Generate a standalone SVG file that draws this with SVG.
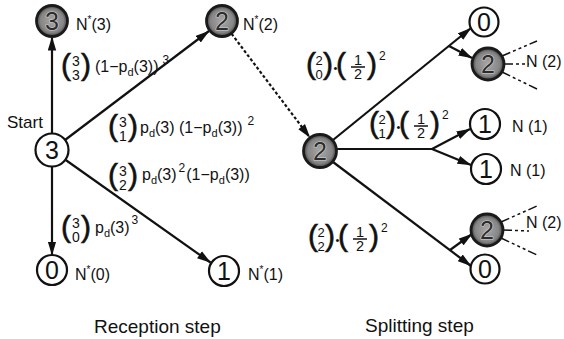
<svg xmlns="http://www.w3.org/2000/svg" width="564" height="339" viewBox="0 0 564 339">
  <defs>
    <style>
      text { font-family: "Liberation Sans", Arial, Helvetica, sans-serif; fill: #111; }
      .ln { stroke: #111; stroke-width: 2.2; fill: none; }
      .arr { marker-end: url(#ah); }
      .dot { stroke: #111; stroke-width: 2.2; fill: none; stroke-dasharray: 3 2.2; }
      .dash { stroke: #111; stroke-width: 1.5; fill: none; stroke-dasharray: 9 3 3 3 3 3 3 3; }
      .plain circle { fill: #fff; stroke: #111; stroke-width: 2.2; }
      .shade circle { fill: url(#grey); stroke: #1a1a1a; stroke-width: 2.8; }
      .num { font-size: 25px; text-anchor: middle; }
      .shade .num { fill: #2c2c2c; stroke: #d4d4d4; stroke-width: 1.2; paint-order: stroke; }
      .lbl { font-size: 16px; }
      .star { font-size: 10px; }
      .big { font-size: 30px; stroke: #111; stroke-width: 0.6; }
      .bn { font-size: 14px; text-anchor: middle; }
      .bs { font-size: 13px; text-anchor: middle; }
      .fr { font-size: 14.5px; text-anchor: middle; }
      .f { font-size: 16px; }
      .sb { font-size: 11px; }
      .sp { font-size: 12px; }
      .bar { stroke: #111; stroke-width: 1.5; }
      .cap { font-size: 19px; }
    </style>
    <radialGradient id="grey" cx="0.5" cy="0.5" r="0.5">
      <stop offset="0" stop-color="#a8a8a8"/>
      <stop offset="0.75" stop-color="#858585"/>
      <stop offset="1" stop-color="#404040"/>
    </radialGradient>
    <marker id="ah" viewBox="0 0 14 9" refX="13.5" refY="4.5" markerWidth="14" markerHeight="9" markerUnits="userSpaceOnUse" orient="auto">
      <path d="M0,0.3 L14,4.5 L0,8.7 Z" fill="#111"/>
    </marker>
  </defs>

  <rect width="564" height="339" fill="#fff"/>

  <!-- connectors -->
  <g id="connectors">
    <!-- reception step -->
    <line class="ln arr" x1="52" y1="133.5" x2="52" y2="37"/>
    <line class="ln arr" x1="65" y1="140" x2="209" y2="31"/>
    <line class="ln arr" x1="65" y1="159.5" x2="210.5" y2="262.5"/>
    <line class="ln arr" x1="52" y1="166.5" x2="52" y2="255"/>
    <line class="dot arr" x1="231.6" y1="33.8" x2="309.8" y2="137.4"/>
    <!-- splitting step -->
    <line class="ln arr" x1="333" y1="140" x2="471" y2="28"/>
    <line class="ln arr" x1="449" y1="46" x2="472" y2="58"/>
    <polyline class="ln" points="337,149 432,149"/>
    <line class="ln arr" x1="432" y1="149" x2="470" y2="129"/>
    <line class="ln arr" x1="432" y1="149" x2="471" y2="165"/>
    <line class="ln arr" x1="333" y1="162" x2="471" y2="266"/>
    <line class="ln arr" x1="450" y1="250" x2="472" y2="234"/>
    <!-- further splits -->
    <line class="dash" x1="502" y1="56" x2="537" y2="41"/>
    <line class="dash" x1="504" y1="64" x2="529" y2="64"/>
    <line class="dash" x1="502" y1="72" x2="537" y2="89"/>
    <line class="dash" x1="501" y1="222" x2="537" y2="206"/>
    <line class="dash" x1="503" y1="230" x2="529" y2="231"/>
    <line class="dash" x1="501" y1="238" x2="537" y2="255"/>
  </g>

  <!-- nodes -->
  <g id="n-top3" class="shade">
    <circle cx="52" cy="21" r="15.5"/>
    <text class="num" x="52" y="30">3</text>
    <text class="lbl" x="76" y="30">N<tspan class="star" dy="-7">*</tspan><tspan dy="7">(3)</tspan></text>
  </g>
  <g id="n-start" class="plain">
    <circle cx="52" cy="150" r="16.5"/>
    <text class="num" x="52" y="159">3</text>
    <text x="7" y="128" font-size="17">Start</text>
  </g>
  <g id="n-top2" class="shade">
    <circle cx="222" cy="21" r="15.5"/>
    <text class="num" x="222" y="30">2</text>
    <text class="lbl" x="243" y="30">N<tspan class="star" dy="-7">*</tspan><tspan dy="7">(2)</tspan></text>
  </g>
  <g id="n-bot0" class="plain">
    <circle cx="52" cy="270" r="15"/>
    <text class="num" x="52" y="279">0</text>
    <text class="lbl" x="75" y="280">N<tspan class="star" dy="-7">*</tspan><tspan dy="7">(0)</tspan></text>
  </g>
  <g id="n-bot1" class="plain">
    <circle cx="224" cy="271" r="15"/>
    <text class="num" x="224" y="280">1</text>
    <text class="lbl" x="248" y="280">N<tspan class="star" dy="-7">*</tspan><tspan dy="7">(1)</tspan></text>
  </g>
  <g id="n-split2" class="shade">
    <circle cx="320" cy="151" r="16.5"/>
    <text class="num" x="320" y="160">2</text>
  </g>
  <g id="n-a0" class="plain">
    <circle cx="484" cy="22" r="14.5"/>
    <text class="num" x="484" y="31">0</text>
  </g>
  <g id="n-a2" class="shade">
    <circle cx="488" cy="64" r="16"/>
    <text class="num" x="488" y="73">2</text>
    <text class="lbl" x="526" y="67">N (2)</text>
  </g>
  <g id="n-b1" class="plain">
    <circle cx="485" cy="124" r="15"/>
    <text class="num" x="485" y="133">1</text>
    <text class="lbl" x="512" y="132">N (1)</text>
  </g>
  <g id="n-c1" class="plain">
    <circle cx="486" cy="169" r="15"/>
    <text class="num" x="486" y="178">1</text>
    <text class="lbl" x="510" y="176">N (1)</text>
  </g>
  <g id="n-d2" class="shade">
    <circle cx="487" cy="230" r="16"/>
    <text class="num" x="487" y="239">2</text>
    <text class="lbl" x="526" y="228">N (2)</text>
  </g>
  <g id="n-d0" class="plain">
    <circle cx="485" cy="269" r="14.5"/>
    <text class="num" x="485" y="278">0</text>
  </g>

  <!-- branch probabilities, reception step -->
  <g id="p-33" transform="translate(61,53)">
    <text class="big" x="0" y="22">(</text>
    <text class="bn" x="15" y="13">3</text>
    <text class="bn" x="15" y="27">3</text>
    <text class="big" x="20" y="22">)</text>
    <text class="f" x="34" y="19">(1−p<tspan class="sb" dy="4">d</tspan><tspan dy="-4">(3))</tspan><tspan class="sp" dx="4" dy="-8">3</tspan></text>
  </g>
  <g id="p-31" transform="translate(108,114)">
    <text class="big" x="0" y="22">(</text>
    <text class="bn" x="15" y="13">3</text>
    <text class="bn" x="15" y="27">1</text>
    <text class="big" x="20" y="22">)</text>
    <text class="f" x="32" y="19">p<tspan class="sb" dy="4">d</tspan><tspan dy="-4">(3) (1−p</tspan><tspan class="sb" dy="4">d</tspan><tspan dy="-4">(3))</tspan><tspan class="sp" dx="5" dy="-8">2</tspan></text>
  </g>
  <g id="p-32" transform="translate(108,163)">
    <text class="big" x="0" y="22">(</text>
    <text class="bn" x="15" y="13">3</text>
    <text class="bn" x="15" y="27">2</text>
    <text class="big" x="20" y="22">)</text>
    <text class="f" x="34" y="17">p<tspan class="sb" dy="4">d</tspan><tspan dy="-4">(3)</tspan><tspan class="sp" dx="2" dy="-8">2</tspan><tspan dx="1" dy="8">(1−p</tspan><tspan class="sb" dy="4">d</tspan><tspan dy="-4">(3))</tspan></text>
  </g>
  <g id="p-30" transform="translate(61,215)">
    <text class="big" x="0" y="22">(</text>
    <text class="bn" x="15" y="13">3</text>
    <text class="bn" x="15" y="27">0</text>
    <text class="big" x="20" y="22">)</text>
    <text class="f" x="34" y="18">p<tspan class="sb" dy="4">d</tspan><tspan dy="-4">(3)</tspan><tspan class="sp" dx="2" dy="-9">3</tspan></text>
  </g>

  <!-- branch probabilities, splitting step -->
  <g id="p-20" transform="translate(306,52)">
    <text class="big" x="0" y="22">(</text>
    <text class="bs" x="13" y="12.5">2</text>
    <text class="bs" x="13" y="26.5">0</text>
    <text class="big" x="17" y="22">)</text>
    <text x="29.5" y="19.5" font-size="11" text-anchor="middle">•</text>
    <text class="big" x="30" y="22">(</text>
    <text class="fr" x="52" y="12.5">1</text>
    <line class="bar" x1="45" y1="15" x2="59" y2="15"/>
    <text class="fr" x="52" y="27">2</text>
    <text class="big" x="61" y="22">)</text>
    <text class="sp" x="73" y="8">2</text>
  </g>
  <g id="p-21" transform="translate(369,111)">
    <text class="big" x="0" y="22">(</text>
    <text class="bs" x="13" y="12.5">2</text>
    <text class="bs" x="13" y="26.5">1</text>
    <text class="big" x="17" y="22">)</text>
    <text x="29.5" y="19.5" font-size="11" text-anchor="middle">•</text>
    <text class="big" x="30" y="22">(</text>
    <text class="fr" x="52" y="12.5">1</text>
    <line class="bar" x1="45" y1="15" x2="59" y2="15"/>
    <text class="fr" x="52" y="27">2</text>
    <text class="big" x="61" y="22">)</text>
    <text class="sp" x="73" y="8">2</text>
  </g>
  <g id="p-22" transform="translate(308,224)">
    <text class="big" x="0" y="22">(</text>
    <text class="bs" x="13" y="12.5">2</text>
    <text class="bs" x="13" y="26.5">2</text>
    <text class="big" x="17" y="22">)</text>
    <text x="29.5" y="19.5" font-size="11" text-anchor="middle">•</text>
    <text class="big" x="30" y="22">(</text>
    <text class="fr" x="52" y="12.5">1</text>
    <line class="bar" x1="45" y1="15" x2="59" y2="15"/>
    <text class="fr" x="52" y="27">2</text>
    <text class="big" x="61" y="22">)</text>
    <text class="sp" x="73" y="8">2</text>
  </g>

  <!-- step captions -->
  <text class="cap" x="94" y="333">Reception step</text>
  <text class="cap" x="365" y="332">Splitting step</text>
</svg>
